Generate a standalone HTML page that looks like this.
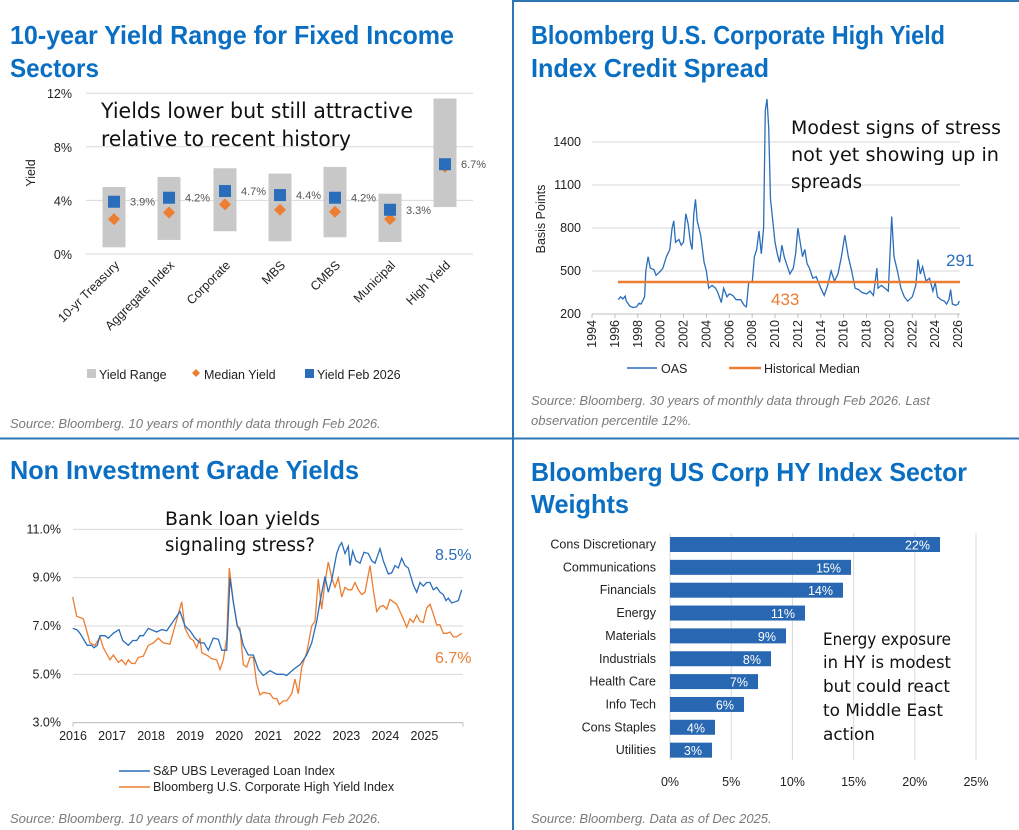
<!DOCTYPE html>
<html><head><meta charset="utf-8"><style>
html,body{margin:0;padding:0;background:#fff;}
svg{display:block;font-family:"Liberation Sans",sans-serif;}
.t{font-weight:bold;fill:#0a6fc2;font-size:26px;}
.ax{font-size:12.5px;fill:#222;}
.src{font-size:13px;fill:#7a7a7a;font-style:italic;}
.hw{font-family:"DejaVu Sans",sans-serif;fill:#111;}
.g{stroke:#d9d9d9;stroke-width:1;}
</style></head><body>
<svg id="s" width="1019" height="830" viewBox="0 0 1019 830" xmlns="http://www.w3.org/2000/svg">
<!-- dividers -->
<line x1="513" y1="0" x2="513" y2="830" stroke="#2e75b6" stroke-width="2"/>
<line x1="0" y1="438.5" x2="1019" y2="438.5" stroke="#2e75b6" stroke-width="2"/>
<line x1="513" y1="1" x2="1019" y2="1" stroke="#2e75b6" stroke-width="2"/>

<!-- Panel 1 -->
<text class="t" x="10" y="44" textLength="444" lengthAdjust="spacingAndGlyphs">10-year Yield Range for Fixed Income</text>
<text class="t" x="10" y="77" textLength="89" lengthAdjust="spacingAndGlyphs">Sectors</text>
<g id="p1"></g>
<text class="hw" x="101" y="118" font-size="21" textLength="312" lengthAdjust="spacingAndGlyphs">Yields lower but still attractive</text>
<text class="hw" x="101" y="146" font-size="21" textLength="250" lengthAdjust="spacingAndGlyphs">relative to recent history</text>
<text class="ax" transform="translate(35,173) rotate(-90)" text-anchor="middle">Yield</text>
<rect x="87" y="369" width="9" height="9" fill="#c8c8c8"/><text class="ax" x="99" y="379">Yield Range</text>
<path d="M196 369 l4 4 -4 4 -4 -4z" fill="#ed7d31"/><text class="ax" x="204" y="379">Median Yield</text>
<rect x="305" y="369" width="9" height="9" fill="#2a6ebb"/><text class="ax" x="317" y="379">Yield Feb 2026</text>
<text class="src" x="10" y="428">Source: Bloomberg. 10 years of monthly data through Feb 2026.</text>

<!-- Panel 2 -->
<text class="t" x="531" y="44" textLength="414" lengthAdjust="spacingAndGlyphs">Bloomberg U.S. Corporate High Yield</text>
<text class="t" x="531" y="77" textLength="238" lengthAdjust="spacingAndGlyphs">Index Credit Spread</text>
<g id="p2"></g>
<text class="hw" x="791" y="134" font-size="19" textLength="210" lengthAdjust="spacingAndGlyphs">Modest signs of stress</text>
<text class="hw" x="791" y="161" font-size="19" textLength="208" lengthAdjust="spacingAndGlyphs">not yet showing up in</text>
<text class="hw" x="791" y="188" font-size="19" textLength="71" lengthAdjust="spacingAndGlyphs">spreads</text>
<text x="771" y="305" font-size="17" fill="#ed7d31">433</text>
<text x="946" y="266" font-size="17" fill="#2a6ebb">291</text>
<text class="ax" transform="translate(545,219) rotate(-90)" text-anchor="middle" font-size="12">Basis Points</text>
<line x1="627" y1="368" x2="657" y2="368" stroke="#2a6ebb" stroke-width="1.5"/><text class="ax" x="661" y="373">OAS</text>
<line x1="729" y1="368" x2="761" y2="368" stroke="#ed7d31" stroke-width="2.5"/><text class="ax" x="764" y="373">Historical Median</text>
<text class="src" x="531" y="405">Source: Bloomberg. 30 years of monthly data through Feb 2026. Last</text>
<text class="src" x="531" y="425">observation percentile 12%.</text>

<!-- Panel 3 -->
<text class="t" x="10" y="479" textLength="349" lengthAdjust="spacingAndGlyphs">Non Investment Grade Yields</text>
<g id="p3"></g>
<text class="hw" x="165" y="525" font-size="19" textLength="155" lengthAdjust="spacingAndGlyphs">Bank loan yields</text>
<text class="hw" x="165" y="551" font-size="19" textLength="150" lengthAdjust="spacingAndGlyphs">signaling stress?</text>
<text x="435" y="560" font-size="16" fill="#2a6ebb">8.5%</text>
<text x="435" y="663" font-size="16" fill="#ed7d31">6.7%</text>
<line x1="119" y1="771" x2="150" y2="771" stroke="#2a6ebb" stroke-width="1.5"/><text class="ax" x="153" y="775" font-size="12">S&amp;P UBS Leveraged Loan Index</text>
<line x1="119" y1="787" x2="150" y2="787" stroke="#ed7d31" stroke-width="1.5"/><text class="ax" x="153" y="791" font-size="12">Bloomberg U.S. Corporate High Yield Index</text>
<text class="src" x="10" y="823">Source: Bloomberg. 10 years of monthly data through Feb 2026.</text>

<!-- Panel 4 -->
<text class="t" x="531" y="481" textLength="436" lengthAdjust="spacingAndGlyphs">Bloomberg US Corp HY Index Sector</text>
<text class="t" x="531" y="513" textLength="98" lengthAdjust="spacingAndGlyphs">Weights</text>
<g id="p4"></g>
<text class="hw" x="823" y="645" font-size="17" textLength="128" lengthAdjust="spacingAndGlyphs">Energy exposure</text>
<text class="hw" x="823" y="668" font-size="17" textLength="128" lengthAdjust="spacingAndGlyphs">in HY is modest</text>
<text class="hw" x="823" y="692" font-size="17" textLength="127" lengthAdjust="spacingAndGlyphs">but could react</text>
<text class="hw" x="823" y="716" font-size="17" textLength="120" lengthAdjust="spacingAndGlyphs">to Middle East</text>
<text class="hw" x="823" y="740" font-size="17" textLength="52" lengthAdjust="spacingAndGlyphs">action</text>
<text class="src" x="531" y="823">Source: Bloomberg. Data as of Dec 2025.</text>
</svg>
<script>
var NS="http://www.w3.org/2000/svg";
function el(p,tag,a,txt){var e=document.createElementNS(NS,tag);for(var k in a)e.setAttribute(k,a[k]);if(txt!=null)e.textContent=txt;document.getElementById(p).appendChild(e);return e;}
// Panel 1
(function(){
 var Y=function(v){return 254-13.4*v;};
 [0,4,8,12].forEach(function(v){el("p1","line",{x1:86,x2:473,y1:Y(v),y2:Y(v),"class":"g"});el("p1","text",{x:72,y:Y(v)+5,"class":"ax","text-anchor":"end"},v+"%");});
 var d=[["10-yr Treasury",114,0.5,5.0,2.6,3.9],["Aggregate Index",169,1.05,5.75,3.1,4.2],["Corporate",225,1.7,6.4,3.7,4.7],["MBS",280,0.95,6.0,3.3,4.4],["CMBS",335,1.25,6.5,3.15,4.2],["Municipal",390,0.9,4.5,2.6,3.3],["High Yield",445,3.5,11.6,6.5,6.7]];
 d.forEach(function(r){var c=r[1];
  el("p1","rect",{x:c-11.5,y:Y(r[3]),width:23,height:Y(r[2])-Y(r[3]),fill:"#c8c8c8"});
  var my=Y(r[4]);el("p1","path",{d:"M"+c+" "+(my-6)+" l6 6 -6 6 -6 -6z",fill:"#ed7d31"});
  var yy=Y(r[5]);el("p1","rect",{x:c-6,y:yy-6,width:12,height:12,fill:"#2a6ebb"});
  el("p1","text",{x:c+16,y:yy+4,"font-size":"11",fill:"#555"},r[5].toFixed(1)+"%");
  el("p1","text",{"class":"ax","text-anchor":"end",transform:"translate("+(c+6)+",266) rotate(-45)"},r[0]);
 });
})();
// Panel 2
(function(){
 var X=function(y){return 592+(y-1994)*11.44;},Y=function(v){return 314-(v-200)*43/300;};
 [200,500,800,1100,1400].forEach(function(v){el("p2","line",{x1:592,x2:960,y1:Y(v),y2:Y(v),"class":"g"});el("p2","text",{x:581,y:Y(v)+4,"class":"ax","text-anchor":"end","font-size":"12"},v);});
 el("p2","line",{x1:592,x2:960,y1:314,y2:314,stroke:"#bfbfbf"});
 for(var yr=1994;yr<=2026;yr+=2){el("p2","line",{x1:X(yr),x2:X(yr),y1:314,y2:318,stroke:"#bfbfbf"});el("p2","text",{"class":"ax","font-size":"12","text-anchor":"end",transform:"translate("+(X(yr)+4)+",320) rotate(-90)"},yr);}
 var p=[1996.3,300,1996.5,320,1996.7,305,1996.9,325,1997,290,1997.3,255,1997.6,245,1997.9,250,1998.1,275,1998.3,270,1998.6,320,1998.7,500,1998.9,600,1999.1,520,1999.4,510,1999.6,470,2000,500,2000.2,520,2000.5,600,2000.8,650,2001,800,2001.15,850,2001.3,700,2001.6,720,2001.8,680,2002.0,700,2002.2,900,2002.4,830,2002.6,700,2002.75,650,2002.9,900,2003.05,1000,2003.2,850,2003.5,750,2003.8,560,2004.0,500,2004.2,380,2004.5,400,2004.8,380,2005.0,350,2005.3,280,2005.5,380,2005.8,320,2006,340,2006.3,330,2006.6,300,2007,300,2007.3,260,2007.5,250,2007.7,420,2008,420,2008.2,600,2008.4,650,2008.6,780,2008.8,620,2009,800,2009.15,1620,2009.3,1700,2009.45,1500,2009.6,1000,2009.8,850,2010,700,2010.2,620,2010.4,560,2010.6,680,2010.8,600,2011,550,2011.3,480,2011.6,520,2011.8,620,2012,800,2012.2,700,2012.4,600,2012.6,650,2012.8,550,2013,520,2013.3,450,2013.6,460,2014,380,2014.3,330,2014.6,400,2014.9,500,2015.2,430,2015.5,480,2015.8,600,2016.1,750,2016.4,600,2016.7,500,2017.0,380,2017.3,370,2017.6,350,2018,340,2018.3,360,2018.6,330,2018.9,520,2019.0,380,2019.3,400,2019.6,380,2019.9,360,2020.2,880,2020.4,600,2020.7,500,2021,380,2021.3,320,2021.6,290,2022,320,2022.3,400,2022.5,580,2022.7,480,2022.9,530,2023.2,430,2023.5,450,2023.8,360,2024.0,420,2024.2,320,2024.5,300,2024.8,290,2025.0,270,2025.2,300,2025.35,370,2025.5,270,2025.8,260,2026.0,270,2026.1,291];
 var s="";for(var i=0;i<p.length;i+=2)s+=X(p[i]).toFixed(1)+","+Y(p[i+1]).toFixed(1)+" ";
 el("p2","polyline",{points:s,fill:"none",stroke:"#2a6ebb","stroke-width":"1.3"});
 el("p2","line",{x1:618,x2:960,y1:282,y2:282,stroke:"#ed7d31","stroke-width":"2.5"});
})();
// Panel 3
(function(){
 var X=function(z){return z/3;},Y=function(v){return 500+(668-(v-3)*72.5)/3;};
 [3,5,7,9,11].forEach(function(v){el("p3","line",{x1:73,x2:463,y1:Y(v),y2:Y(v),"class":"g"});el("p3","text",{x:61,y:Y(v)+4,"class":"ax","text-anchor":"end","font-size":"11.5"},v.toFixed(1)+"%");});
 el("p3","line",{x1:73,x2:463,y1:Y(3),y2:Y(3),stroke:"#bfbfbf"});
 for(var k=0;k<10;k++){var x=73+k*39.05;el("p3","text",{x:x,y:740,"class":"ax","text-anchor":"middle","font-size":"12"},2016+k);}
 el("p3","line",{x1:73,x2:73,y1:Y(3),y2:Y(3)+4,stroke:"#bfbfbf"});el("p3","line",{x1:463,x2:463,y1:Y(3),y2:Y(3)+4,stroke:"#bfbfbf"});
 var L=[218,6.9,230,6.85,240,6.7,255,6.35,262,6.2,275,6.2,282,6.1,292,6.2,300,6.6,315,6.6,325,6.5,340,6.7,357,6.85,368,6.4,385,6.2,398,6.4,410,6.4,420,6.6,430,6.6,445,6.9,470,6.75,485,6.85,500,6.8,520,7.2,540,7.6,555,7.0,570,6.8,585,6.5,600,6.3,612,6.3,625,6.0,640,6.5,655,6.45,665,6.0,680,6.0,690,9.0,700,8.0,712,7.0,720,6.8,730,6.2,745,5.8,760,5.8,775,5.2,790,4.95,810,5.15,830,5.0,850,5.0,860,4.95,880,5.2,900,5.4,920,5.8,935,6.3,950,7.2,960,8.0,975,9.05,985,8.4,995,8.9,1010,10.0,1018,10.3,1025,10.45,1035,10.0,1045,10.3,1050,9.5,1058,10.1,1068,9.7,1080,9.6,1092,10.05,1105,10.0,1115,9.7,1125,9.6,1140,10.2,1150,9.7,1165,9.15,1175,9.2,1185,9.5,1195,9.4,1205,9.8,1215,9.5,1225,9.4,1240,8.7,1250,8.4,1260,8.8,1270,8.65,1280,8.8,1290,8.8,1300,8.5,1310,8.6,1320,8.4,1330,8.3,1338,8.05,1345,8.15,1355,7.95,1365,8.0,1375,8.05,1385,8.5];
 var H=[218,8.2,230,7.4,250,7.3,260,6.8,270,6.3,285,6.2,300,6.55,310,6.1,330,5.6,340,5.8,355,5.5,365,5.6,377,5.4,385,5.6,395,5.45,405,5.45,415,5.7,430,5.75,445,6.2,460,6.3,475,6.5,490,6.3,510,6.25,525,7.0,545,8.0,555,6.9,570,6.5,580,6.4,590,6.1,600,6.5,605,5.9,620,5.8,635,5.65,650,5.6,660,5.2,670,5.6,680,6.5,688,9.4,700,8.0,712,7.0,720,6.9,730,5.4,740,5.3,750,5.7,760,5.7,770,4.6,780,4.15,790,4.25,810,4.2,820,4.0,830,4.0,838,3.75,850,3.9,860,3.9,875,4.2,885,4.8,895,4.2,905,5.3,920,5.9,935,7.0,945,7.2,955,8.95,965,7.7,975,8.8,985,9.65,995,9.0,1005,8.6,1015,9.0,1025,8.2,1035,8.6,1045,8.5,1055,8.5,1065,8.8,1075,8.5,1085,8.3,1095,8.4,1110,9.5,1120,8.5,1130,7.6,1140,7.8,1150,7.85,1160,7.7,1170,8.1,1180,8.0,1190,7.9,1200,7.6,1210,7.3,1220,6.95,1230,7.3,1240,7.15,1250,7.45,1260,7.2,1270,7.15,1280,7.75,1290,7.9,1300,7.5,1310,7.05,1320,7.05,1330,6.7,1340,6.7,1350,6.75,1360,6.55,1370,6.55,1385,6.7];
 function pl(a,c){var s="";for(var i=0;i<a.length;i+=2)s+=X(a[i]).toFixed(1)+","+Y(a[i+1]).toFixed(1)+" ";el("p3","polyline",{points:s,fill:"none",stroke:c,"stroke-width":"1.3"});}
 pl(H,"#ed7d31");pl(L,"#2a6ebb");
})();
// Panel 4
(function(){
 var X=function(v){return 670+v*12.24;};
 [0,5,10,15,20,25].forEach(function(v){el("p4","line",{x1:X(v),x2:X(v),y1:533,y2:760,"class":"g"});el("p4","text",{x:X(v),y:786,"class":"ax","text-anchor":"middle","font-size":"12"},v+"%");});
 var d=[["Cons Discretionary",940,"22%"],["Communications",851,"15%"],["Financials",843,"14%"],["Energy",805,"11%"],["Materials",786,"9%"],["Industrials",771,"8%"],["Health Care",758,"7%"],["Info Tech",744,"6%"],["Cons Staples",715,"4%"],["Utilities",712,"3%"]];
 d.forEach(function(r,i){var c=544.5+i*22.85;
  el("p4","rect",{x:670,y:c-7.5,width:r[1]-670,height:15,fill:"#2867b2"});
  el("p4","text",{x:r[1]-10,y:c+5,"text-anchor":"end",fill:"#fff","font-size":"12.5"},r[2]);
  el("p4","text",{x:656,y:c+4,"class":"ax","text-anchor":"end","font-size":"12.5"},r[0]);
 });
})();
</script>
</body></html>
